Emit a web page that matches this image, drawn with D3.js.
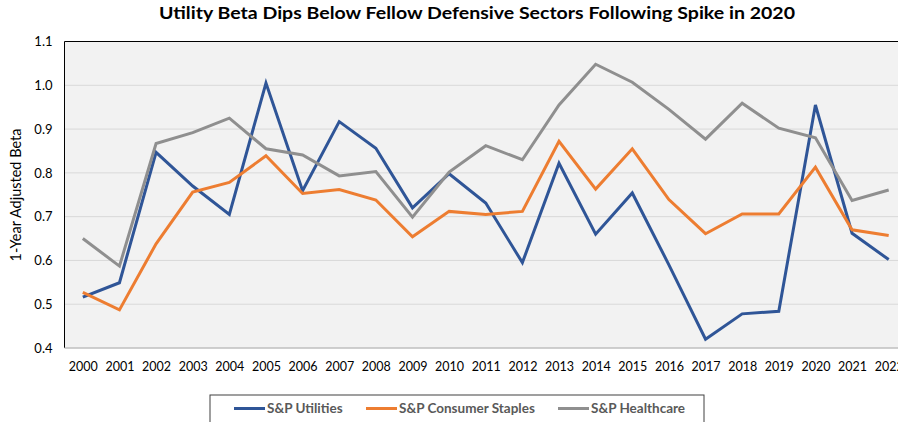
<!DOCTYPE html>
<html><head><meta charset="utf-8">
<script src="https://cdn.jsdelivr.net/npm/d3@7"></script>
<style>body{margin:0;background:#fff;}svg{display:block;}text{font-family:Lato,"Open Sans",sans-serif;}</style>
</head><body>
<svg id="c" width="898" height="422"></svg>
<script>
const years = ["2000","2001","2002","2003","2004","2005","2006","2007","2008","2009","2010","2011","2012","2013","2014","2015","2016","2017","2018","2019","2020","2021","2022"];
const utilities = [0.516,0.549,0.847,0.770,0.705,1.005,0.759,0.917,0.856,0.720,0.798,0.731,0.595,0.822,0.660,0.754,0.590,0.420,0.478,0.484,0.955,0.662,0.602];
const staples   = [0.527,0.487,0.638,0.756,0.778,0.839,0.753,0.762,0.738,0.654,0.712,0.705,0.712,0.872,0.763,0.855,0.739,0.661,0.706,0.706,0.813,0.670,0.657];
const healthcare= [0.650,0.587,0.867,0.892,0.925,0.855,0.841,0.793,0.803,0.699,0.802,0.862,0.830,0.955,1.048,1.007,0.945,0.877,0.959,0.902,0.880,0.737,0.761];
const yTicks = [0.4,0.5,0.6,0.7,0.8,0.9,1.0,1.1];
const seriesNames = ["S&P Utilities","S&P Consumer Staples","S&P Healthcare"];
const colors = ["#2F5597","#ED7D31","#8F8F8F"];

const svg = d3.select("#c");
const L=64.5, R=907, T=41.5, B=348;
const x = d3.scalePoint().domain(years).range([L,R]).padding(0.5);
const y = d3.scaleLinear().domain([0.4,1.1]).range([B,T]);

svg.append("rect").attr("x",L).attr("y",T).attr("width",R-L).attr("height",B-T).attr("fill","#F2F2F2");
svg.append("g").selectAll("line").data(yTicks.slice(1,-1)).join("line")
  .attr("x1",L).attr("x2",R).attr("y1",d=>y(d)).attr("y2",d=>y(d))
  .attr("stroke","#D9D9D9").attr("stroke-width",1);
svg.append("line").attr("x1",L).attr("x2",R).attr("y1",T).attr("y2",T).attr("stroke","#000").attr("stroke-width",1);
svg.append("line").attr("x1",L).attr("x2",L).attr("y1",T).attr("y2",B).attr("stroke","#000").attr("stroke-width",1);
svg.append("line").attr("x1",L).attr("x2",R).attr("y1",B).attr("y2",B).attr("stroke","#BFBFBF").attr("stroke-width",1.5);

const yAxis = d3.axisLeft(y).tickValues(yTicks).tickFormat(d3.format(".1f")).tickSize(0).tickPadding(12);
const ya = svg.append("g").attr("transform",`translate(${L},0)`).call(yAxis);
ya.select(".domain").remove();
ya.selectAll("text").attr("font-size",13).attr("fill","#000").style("font-family","Lato, sans-serif");

const xAxis = d3.axisBottom(x).tickSize(0).tickPadding(14);
const xa = svg.append("g").attr("transform",`translate(0,${B})`).call(xAxis);
xa.select(".domain").remove();
xa.selectAll("text").attr("font-size",12.5).attr("fill","#000").style("font-family","Lato, sans-serif");

const line = d3.line().x((d,i)=>x(years[i])).y(d=>y(d));
[utilities,staples,healthcare].forEach((s,k)=>{
  svg.append("path").datum(s).attr("d",line).attr("fill","none")
    .attr("stroke",colors[k]).attr("stroke-width",3).attr("stroke-linejoin","miter");
});

svg.append("text").attr("x",477).attr("y",18.5).attr("text-anchor","middle")
  .attr("font-size",17).attr("font-weight","bold").attr("fill","#000")
  .attr("textLength",636).attr("lengthAdjust","spacingAndGlyphs")
  .text("Utility Beta Dips Below Fellow Defensive Sectors Following Spike in 2020");

svg.append("text").attr("transform","translate(21,195) rotate(-90)").attr("text-anchor","middle")
  .attr("font-size",14.5).attr("fill","#000").text("1-Year Adjusted Beta");

svg.append("rect").attr("x",210).attr("y",395).attr("width",494).attr("height",40)
  .attr("fill","#fff").attr("stroke","#404040").attr("stroke-width",1);
const lx = [234,366,558];
seriesNames.forEach((n,k)=>{
  svg.append("line").attr("x1",lx[k]).attr("x2",lx[k]+31).attr("y1",408.5).attr("y2",408.5)
    .attr("stroke",colors[k]).attr("stroke-width",3);
  svg.append("text").attr("x",lx[k]+33).attr("y",413).attr("font-size",13.5).attr("font-weight","bold")
    .attr("fill","#595959").text(n);
});
</script>
</body></html>
